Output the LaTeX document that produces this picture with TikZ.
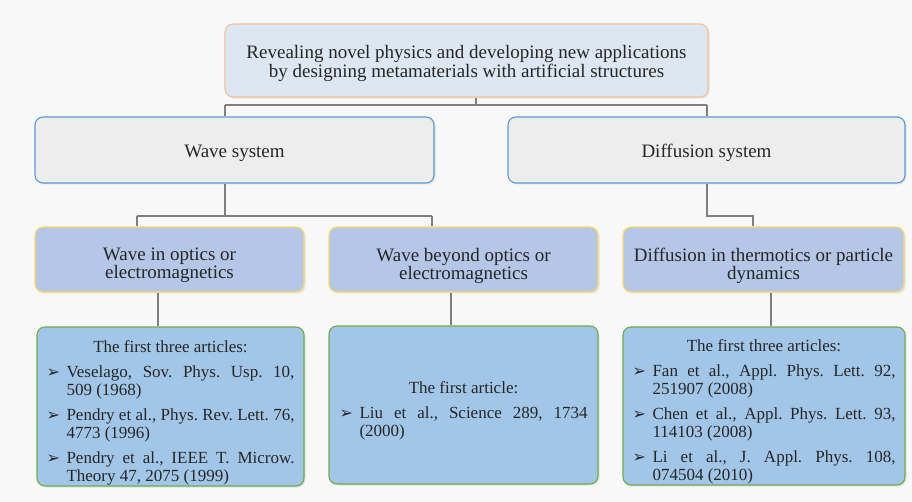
\documentclass[tikz,border=0pt]{standalone}
\usepackage{fontspec}
\setmainfont{Liberation Serif}
\newfontfamily\dejavu{DejaVu Sans}
\usetikzlibrary{shadows}
\definecolor{bgc}{HTML}{F8F8F8}
\definecolor{topfill}{HTML}{DCE7F2}
\definecolor{topedge}{HTML}{F5C29C}
\definecolor{sysfill}{HTML}{EDEDED}
\definecolor{sysedge}{HTML}{5B9BD5}
\definecolor{midfill}{HTML}{B4C7E7}
\definecolor{midedge}{HTML}{FFD966}
\definecolor{botfill}{HTML}{A2C6E8}
\definecolor{botedge}{HTML}{70AD47}
\definecolor{linec}{HTML}{7F7F7F}
\newcommand{\arrbul}{{\dejavu\fontsize{16}{18}\selectfont ➢}}
\newcommand{\refitem}[1]{\par\noindent\hangindent=20pt\hangafter=1\makebox[20pt][l]{\arrbul}#1\par}
\newcommand{\reflist}{\frenchspacing\hyphenpenalty=10000\tolerance=9999\parskip=7pt\fontsize{17}{18}\selectfont}
\begin{document}
\begin{tikzpicture}[x=1pt,y=-1pt,
  every node/.style={font=\fontsize{19}{18}\selectfont, text=black!85},
  basebox/.style={rounded corners=8pt, line width=1.1pt, inner sep=0pt,
    drop shadow={opacity=0.18, shadow xshift=1.5pt, shadow yshift=-1.5pt}},
  topbox/.style={basebox, draw=topedge, fill=topfill},
  sysbox/.style={basebox, draw=sysedge, fill=sysfill},
  midbox/.style={basebox, draw=midedge, fill=midfill},
  botbox/.style={basebox, draw=botedge, fill=botfill},
  txt/.style={align=center, inner sep=0pt},
  conn/.style={draw=linec, line width=1.1pt}]
\fill[bgc] (0,0) rectangle (912,502);
\useasboundingbox (0,0) rectangle (912,502);

% boxes
\node[topbox, minimum width=483pt, minimum height=73pt] (top) at (466.5,60.5) {};
\node[sysbox, minimum width=399pt, minimum height=66pt] (wave) at (234.5,150) {};
\node[sysbox, minimum width=397pt, minimum height=66pt] (diff) at (706.5,150) {};
\node[midbox, minimum width=269pt, minimum height=65pt] (m1) at (169.5,259.5) {};
\node[midbox, minimum width=269pt, minimum height=65pt] (m2) at (463.5,259.5) {};
\node[midbox, minimum width=281pt, minimum height=65pt] (m3) at (763.5,259.5) {};
\node[botbox, minimum width=267pt, minimum height=159pt] (b1) at (170.5,406.5) {};
\node[botbox, minimum width=269pt, minimum height=158pt] (b2) at (463.5,405) {};
\node[botbox, minimum width=282pt, minimum height=158pt] (b3) at (764,406) {};

% texts
\node[txt, font=\fontsize{19}{19}\selectfont] (topt) at ([yshift=-3pt]top.center)
  {Revealing novel physics and developing new applications\\by designing metamaterials with artificial structures};
\node[txt] (wavet) at ([yshift=-3pt]wave.center) {Wave system};
\node[txt] (difft) at ([yshift=-3pt]diff.center) {Diffusion system};
\node[txt] (m1t) at ([yshift=-6pt]m1.center) {Wave in optics or\\electromagnetics};
\node[txt] (m2t) at ([yshift=-6pt]m2.center) {Wave beyond optics or\\electromagnetics};
\node[txt] (m3t) at ([yshift=-6pt]m3.center) {Diffusion in thermotics or particle\\dynamics};

\node[txt] (b1t) at ([yshift=-6pt]b1.center)
  {\parbox{248pt}{\reflist
   {\centering The first three articles:\par}
   \refitem{Veselago, Sov. Phys. Usp. 10,\linebreak 509 (1968)}
   \refitem{Pendry et al., Phys. Rev. Lett. 76,\linebreak 4773 (1996)}
   \refitem{Pendry et al., IEEE T. Microw.\linebreak Theory 47, 2075 (1999)}}};

\node[txt] (b2t) at ([yshift=-6pt]b2.center)
  {\parbox{248pt}{\reflist
   {\centering The first article:\par}
   \refitem{Liu et al., Science 289, 1734\linebreak (2000)}}};

\node[txt] (b3t) at ([yshift=-6pt]b3.center)
  {\parbox{263pt}{\reflist
   {\centering The first three articles:\par}
   \refitem{Fan et al., Appl. Phys. Lett. 92,\linebreak 251907 (2008)}
   \refitem{Chen et al., Appl. Phys. Lett. 93,\linebreak 114103 (2008)}
   \refitem{Li et al., J. Appl. Phys. 108,\linebreak 074504 (2010)}}};

% connectors level 1 -> 2
\coordinate (j1) at (476,105);
\coordinate (j1l) at (225,105);
\coordinate (j1r) at (707,105);
\draw[conn] (top.south -| j1) -- (j1);
\draw[conn] (j1l) -- (j1r);
\draw[conn] (j1l) -- (wave.north -| j1l);
\draw[conn] (j1r) -- (diff.north -| j1r);

% level 2 -> 3
\coordinate (j2) at (225,216);
\coordinate (j2l) at (137,216);
\coordinate (j2r) at (432,216);
\draw[conn] (wave.south -| j2) -- (j2);
\draw[conn] (j2l) -- (j2r);
\draw[conn] (j2l) -- (m1.north -| j2l);
\draw[conn] (j2r) -- (m2.north -| j2r);

\coordinate (j3) at (707,216);
\coordinate (j3r) at (753,216);
\draw[conn] (diff.south -| j3) -- (j3) -- (j3r) -- (m3.north -| j3r);

% level 3 -> 4
\coordinate (k1) at (158,0);
\coordinate (k2) at (451,0);
\coordinate (k3) at (771,0);
\draw[conn] (m1.south -| k1) -- (b1.north -| k1);
\draw[conn] (m2.south -| k2) -- (b2.north -| k2);
\draw[conn] (m3.south -| k3) -- (b3.north -| k3);
\end{tikzpicture}
\end{document}
